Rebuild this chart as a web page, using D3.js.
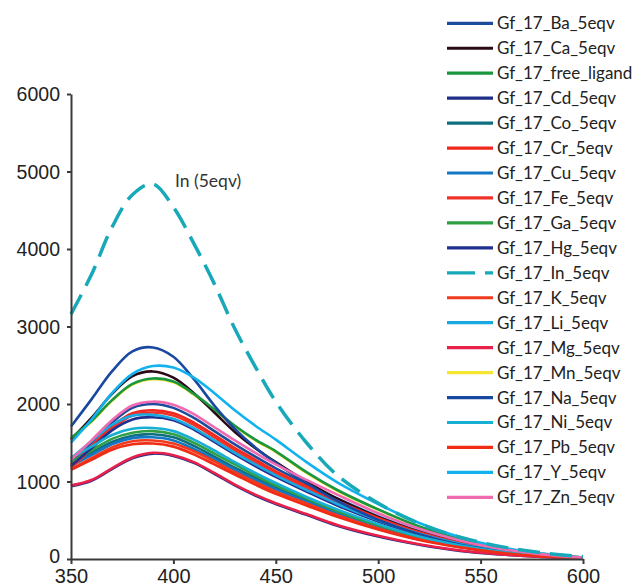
<!DOCTYPE html>
<html>
<head>
<meta charset="utf-8">
<script src="https://cdn.jsdelivr.net/npm/d3@7"></script>
<style>
body{margin:0;background:#fff;}
.plot{width:633px;height:587px;}
</style>
</head>
<body>
<div class="plot" id="plot"></div>
<script>
// wavelength (nm)
var wavelengths = [350,360,370,380,390,400,410,420,430,440,450,465,480,500,520,540,560,580,600];

var seriesNames = ['Gf_17_Ba_5eqv','Gf_17_Ca_5eqv','Gf_17_free_ligand','Gf_17_Cd_5eqv','Gf_17_Co_5eqv',
    'Gf_17_Cr_5eqv','Gf_17_Cu_5eqv','Gf_17_Fe_5eqv','Gf_17_Ga_5eqv','Gf_17_Hg_5eqv','Gf_17_In_5eqv',
    'Gf_17_K_5eqv','Gf_17_Li_5eqv','Gf_17_Mg_5eqv','Gf_17_Mn_5eqv','Gf_17_Na_5eqv','Gf_17_Ni_5eqv',
    'Gf_17_Pb_5eqv','Gf_17_Y_5eqv','Gf_17_Zn_5eqv'];

var seriesColors = ['#1d4c9c','#2b0a18','#1a9640','#1f2f88','#0f6f7f',
    '#f0281e','#1477c4','#f03228','#2ea043','#203090','#17a9b8',
    '#f03a1e','#19a9e0','#e8204a','#f5e430','#1848a0','#17b0d4',
    '#f02c14','#12b2ef','#f06ab0'];

// intensity values, one array per series
var ba  = [1250,1500,1760,1950,2000,1950,1820,1650,1480,1320,1170,970,780,550,360,215,115,52,15];
var ca  = [1540,1820,2130,2360,2420,2340,2140,1890,1640,1430,1250,1000,780,540,350,210,110,50,14];
var fl  = [1560,1780,2050,2260,2330,2290,2130,1930,1720,1540,1390,1120,890,640,420,255,140,66,20];
var cd  = [940,1010,1160,1300,1360,1330,1240,1100,950,820,710,570,430,290,185,105,58,26,8];
var co  = [1220,1370,1510,1590,1610,1570,1460,1320,1180,1050,920,760,600,420,275,165,90,40,11];
var cr  = [1220,1460,1710,1880,1920,1880,1760,1600,1430,1280,1130,940,750,530,345,205,110,50,14];
var cu  = [1200,1340,1480,1560,1570,1530,1420,1290,1150,1020,900,740,585,410,265,160,86,39,11];
var fe  = [1180,1420,1680,1850,1890,1850,1730,1570,1400,1250,1100,910,730,515,335,200,105,48,13];
var ga  = [1250,1400,1550,1630,1650,1610,1500,1360,1220,1080,950,780,620,435,285,170,92,42,12];
var hg  = [1200,1430,1660,1800,1830,1790,1670,1510,1350,1200,1060,870,690,485,315,185,100,45,12];
var inn = [3160,3670,4280,4700,4840,4540,4070,3550,2970,2480,2030,1500,1080,720,460,280,160,80,30];
var k   = [1160,1300,1440,1520,1530,1490,1390,1260,1120,990,870,715,565,395,255,155,83,38,10];
var li  = [1300,1520,1730,1850,1860,1810,1690,1530,1370,1220,1080,890,710,500,325,195,105,48,13];
var mg  = [950,1020,1170,1310,1370,1340,1250,1110,960,830,720,580,440,300,190,110,60,27,8];
var mn  = [1550,1770,2040,2250,2320,2280,2120,1920,1710,1530,1380,1110,880,635,418,253,139,65,20];
var na  = [1710,2060,2420,2680,2730,2610,2320,1980,1680,1440,1240,980,750,505,320,185,100,45,12];
var ni  = [1300,1450,1600,1680,1690,1650,1540,1400,1250,1110,980,800,640,450,290,175,95,42,12];
var pb  = [1150,1280,1410,1480,1490,1450,1350,1220,1090,960,840,690,545,380,245,150,80,36,10];
var y5  = [1500,1800,2140,2390,2490,2470,2340,2140,1920,1720,1540,1250,990,710,465,280,150,70,20];
var zn  = [1280,1530,1790,1980,2030,1990,1870,1700,1530,1370,1220,1020,830,590,390,240,130,60,18];

var seriesValues = [ba,ca,fl,cd,co,cr,cu,fe,ga,hg,inn,k,li,mg,mn,na,ni,pb,y5,zn];

// drawing order (Mn sits under the green free-ligand trace)
var drawOrder = [14,0,1,2,3,4,5,6,7,8,9,11,12,13,15,16,17,18,19,10];

var xTicks = [350,400,450,500,550,600];
var yTicks = [0,1000,2000,3000,4000,5000,6000];

var W = 633, H = 587;
var m = {t:94, r:50, b:28, l:71};
var w = 512, h = H - m.t - m.b;

var svg = d3.select('#plot').append('svg')
    .attr('width',W)
    .attr('height',H);

var x = d3.scaleLinear().domain([350,600]).range([m.l, m.l+w]);
var y = d3.scaleLinear().domain([0,6000]).range([m.t+h, m.t]);

var series = seriesNames.map(function(n,i){
    return {name:n, color:seriesColors[i], dashed:n=='Gf_17_In_5eqv',
        values:wavelengths.map(function(wl,j){return {x:wl, y:seriesValues[i][j]};})};
});

var line = d3.line()
    .x(function(d){return x(d.x)})
    .y(function(d){return y(d.y)})
    .curve(d3.curveCatmullRom.alpha(0.5));

svg.append('g').selectAll('path')
    .data(drawOrder.map(function(i){return series[i]}))
    .enter()
    .append('path')
    .attr('d',function(d){return line(d.values)})
    .attr('fill','none')
    .attr('stroke',function(d){return d.color})
    .attr('stroke-width',function(d){return d.dashed ? 3.5 : 2.6})
    .attr('stroke-dasharray',function(d){return d.dashed ? '22,10' : null});

// axes
var xAxis = svg.append('g')
    .attr('transform','translate(0,'+(m.t+h)+')')
    .call(d3.axisBottom(x).tickValues(xTicks).tickSize(5).tickSizeOuter(0).tickPadding(6));
var yAxis = svg.append('g')
    .attr('transform','translate('+m.l+',0)')
    .call(d3.axisLeft(y).tickValues(yTicks).tickFormat(d3.format('d')).tickSize(4).tickSizeOuter(0).tickPadding(7));

svg.selectAll('.domain, .tick line')
    .attr('stroke','#3a3a3a')
    .attr('stroke-width',2);
svg.selectAll('.tick text')
    .attr('fill','#222')
    .style('font-family','Liberation Sans, Arial, sans-serif')
    .style('font-size','20px');
xAxis.selectAll('.tick text').attr('dy','0.66em');
yAxis.selectAll('.tick text')
    .attr('dy',function(d){return d==0 ? '0.2em' : '0.34em'})
    .style('font-size','19.5px');

// annotation
svg.append('text')
    .attr('x',175)
    .attr('y',187)
    .attr('fill','#333')
    .style('font-family','Lato, sans-serif')
    .style('font-size','17.5px')
    .text('In (5eqv)');

// legend
var legend = svg.append('g').selectAll('g')
    .data(series)
    .enter()
    .append('g')
    .attr('transform',function(d,i){return 'translate(447,'+(23.3+i*24.95)+')'});

legend.append('line')
    .attr('x1',0).attr('x2',46)
    .attr('stroke',function(d){return d.color})
    .attr('stroke-width',3.2)
    .attr('stroke-dasharray',function(d){return d.dashed ? '28,10' : null});

legend.append('text')
    .attr('x',50)
    .attr('dy','0.35em')
    .attr('fill','#222')
    .style('font-family','Lato, sans-serif')
    .style('font-size','17px')
    .text(function(d){return d.name});
</script>
</body>
</html>
